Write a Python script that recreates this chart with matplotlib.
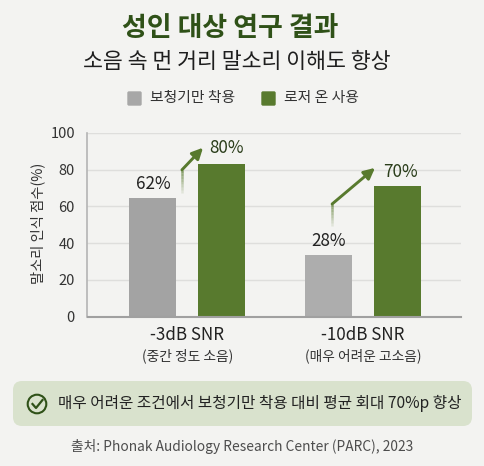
import numpy as np
import matplotlib
matplotlib.use('Agg')
import matplotlib.pyplot as plt
from matplotlib.patches import FancyBboxPatch, Circle
from matplotlib.transforms import IdentityTransform

plt.rcParams['font.family'] = ['Noto Sans CJK KR', 'DejaVu Sans']

conditions = ['-3dB SNR', '-10dB SNR']
condition_notes = ['(중간 정도 소음)', '(매우 어려운 고소음)']
series_names = ['보청기만 착용', '로저 온 사용']
# bar heights as drawn in the picture (they do not quite agree with the printed labels)
hearing_aid = [64.7, 33.5]
roger_on = [83.0, 71.2]
hearing_aid_labels = ['62%', '28%']
roger_labels = ['80%', '70%']
y_ticks = [0, 20, 40, 60, 80, 100]

W, H = 485, 466
BG = '#f3f3f1'
GRAY = '#a7a7a7'
GREEN = '#587a2e'
DARK = '#2f5118'

def fx(px):
    return px / W

def fy(py):
    return 1 - py / H

fig = plt.figure(figsize=(W / 100, H / 100), dpi=100, facecolor=BG)
ax = fig.add_axes([fx(87.5), fy(316.5), (461 - 87.5) / W, (316.5 - 133) / H])
ax.set_facecolor('none')

x = np.arange(len(conditions))
width = 0.267
offset = 0.195
ax.bar(x - offset, hearing_aid, width, color=['#a3a3a3', '#adadad'], zorder=3)
ax.bar(x + offset, roger_on, width, color=GREEN, zorder=3)

ax.set_xlim(-0.567, 1.557)
ax.set_ylim(0, 100)
ax.set_yticks(y_ticks)
ax.set_xticks(x)
ax.set_xticklabels(conditions, fontsize=12.2, fontweight='medium', color='#222222')
ax.tick_params(axis='x', length=0, pad=7)
ax.tick_params(axis='y', length=0, pad=9, labelsize=10.5, labelcolor='#333333')
ax.grid(axis='y', color='#dededc', lw=1, zorder=0)
ax.spines['top'].set_visible(False)
ax.spines['right'].set_visible(False)
ax.spines['left'].set_color('#b4b4b4')
ax.spines['left'].set_linewidth(1.2)
ax.spines['bottom'].set_color('#a0a0a0')
ax.spines['bottom'].set_linewidth(1.5)
ax.spines['bottom'].set_zorder(4)
fig.text(fx(38), fy(223), '말소리 인식 점수(%)', rotation=90, ha='center', va='center', fontsize=10.3, color='#333333')

# notes under the condition names
for i, note in enumerate(condition_notes):
    ax.text(x[i], -21.6, note, ha='center', va='center', fontsize=9.9, color='#333333', clip_on=False)

# value labels
for i in x:
    ax.text(i - offset, hearing_aid[i] + 7.7, hearing_aid_labels[i], ha='center', va='center', fontsize=12.3,
            fontweight='medium', color='#222222', zorder=5)
ax.text(x[0] + offset + 0.026, roger_on[0] + 9, roger_labels[0], ha='center', va='center', fontsize=12.3,
        fontweight='medium', color='#2a3d1a', zorder=5)
ax.text(x[1] + offset + 0.017, roger_on[1] + 7.8, roger_labels[1], ha='center', va='center', fontsize=12.3,
        fontweight='medium', color='#2a3d1a', zorder=5)

# rising arrows: faded stem next to the gray bar, then diagonal to above the green bar
stem_x = [-0.03, -0.176]
stem_low = [2.5, 16.0]
stem_high = [15.2, 27.8]
tip_x = [0.09, 0.068]
tip_up = [9.0, 9.8]
for i in x:
    low = hearing_aid[i] + stem_low[i]
    high = hearing_aid[i] + stem_high[i]
    levels = np.arange(8)
    ys = low + (high - low) * levels / 8
    for j in levels:
        ax.plot([x[i] + stem_x[i]] * 2, [ys[j], ys[j] + (high - low) / 8], color=GREEN,
                alpha=0.12 + 0.08 * j, lw=1.8, solid_capstyle='butt', zorder=4)
    ax.annotate('', xy=(x[i] + tip_x[i], roger_on[i] + tip_up[i]), xytext=(x[i] + stem_x[i], high),
                arrowprops=dict(arrowstyle='-|>,head_width=0.32,head_length=0.65', color=GREEN, lw=2.1,
                                shrinkA=0, shrinkB=0), zorder=5)

# header
fig.text(fx(230.5), fy(28), '성인 대상 연구 결과', ha='center', va='center', fontsize=19.4, fontweight='bold', color=DARK)
fig.text(fx(236.5), fy(62), '소음 속 먼 거리 말소리 이해도 향상', ha='center', va='center', fontsize=15.6, color='#1e1e1e')

# legend
swatches = [(127, GRAY), (261, GREEN)]
for (sx, colour), name in zip(swatches, series_names):
    fig.add_artist(FancyBboxPatch((fx(sx + 1), fy(105)), 13 / W, 13 / H, boxstyle='round,pad=0,rounding_size=0.002',
                                  transform=fig.transFigure, fc=colour, ec=colour, lw=1))
    fig.text(fx(sx + 23), fy(98), name, ha='left', va='center', fontsize=10.7, color='#333333')

# callout band
fig.add_artist(FancyBboxPatch((13, H - 426), 459, 45, boxstyle='round,pad=0,rounding_size=9', fc='#d9e2cd', ec='none',
                              transform=IdentityTransform()))
fig.add_artist(Circle((37, H - 404), 9.3, fc='none', ec=DARK, lw=1.5, transform=IdentityTransform()))
fig.add_artist(plt.Line2D([fx(32.5), fx(36), fx(42.5)], [fy(404), fy(408), fy(400)], color=DARK, lw=1.6,
                          transform=fig.transFigure))
fig.text(fx(58), fy(403.5), '매우 어려운 조건에서 보청기만 착용 대비 평균 회대 70%p 향상', ha='left', va='center',
         fontsize=11.25, color='#222222')

# source
fig.text(fx(242.5), fy(447), '출처: Phonak Audiology Research Center (PARC), 2023', ha='center', va='center',
         fontsize=9.9, color='#4d4d4d')

fig.savefig('out.png', dpi=100, facecolor=BG)
